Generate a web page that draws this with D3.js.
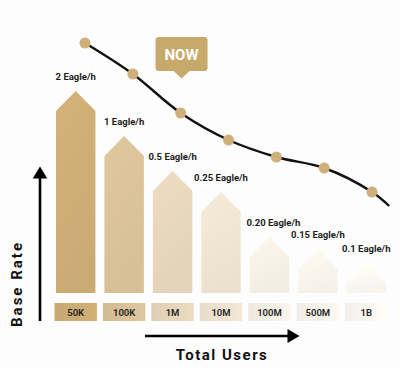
<!DOCTYPE html>
<html>
<head>
<meta charset="utf-8">
<script src="https://cdn.jsdelivr.net/npm/d3@7"></script>
<style>
  html, body { margin: 0; padding: 0; background: #fdfdfd; }
  svg { display: block; font-family: Roboto, "Noto Sans", sans-serif; }
</style>
</head>
<body>
<div id="chart"></div>
<script>
const width = 400, height = 368;

// data
const userTiers = ["50K", "100K", "1M", "10M", "100M", "500M", "1B"];
const rateLabels = ["2 Eagle/h", "1 Eagle/h", "0.5 Eagle/h", "0.25 Eagle/h", "0.20 Eagle/h", "0.15 Eagle/h", "0.1 Eagle/h"];
const barLevels = [202, 157, 122, 101, 56, 44, 30];     // visual bar heights (arrow tip)
const curveLevels = [250, 219, 180, 153, 136, 125, 101]; // trend curve dots
const curveTail = 87;                                    // where the curve line ends
const barColors = ["#cbab74", "#d7bf97", "#e3d3b8", "#ebe1ce", "#f2ede3", "#f5f1ea", "#f7f4ee"];
const nowIndex = 2;

const svg = d3.select("#chart")
    .append("svg")
    .attr("width", width)
    .attr("height", height);

svg.append("rect")
    .attr("width", width)
    .attr("height", height)
    .attr("fill", "#fdfdfd");

const x = d3.scaleBand()
    .domain(userTiers)
    .range([56, 386])
    .paddingInner(0.186)
    .paddingOuter(0);

const y = d3.scaleLinear()
    .domain([0, 250])
    .range([293, 43]);

const xDot = d3.scalePoint()
    .domain(userTiers)
    .range([85, 372]);

const bw = x.bandwidth();
const tip = 20;

// gradients per bar
const defs = svg.append("defs");
barColors.forEach((c, i) => {
    const g = defs.append("linearGradient")
        .attr("id", "grad" + i)
        .attr("x1", 0).attr("y1", 0).attr("x2", 0.3).attr("y2", 1);
    g.append("stop").attr("offset", "0%").attr("stop-color", d3.color(c).brighter(0.12));
    g.append("stop").attr("offset", "100%").attr("stop-color", c);
    const h = defs.append("linearGradient")
        .attr("id", "hgrad" + i)
        .attr("x1", 0).attr("y1", 0).attr("x2", 1).attr("y2", 0);
    h.append("stop").attr("offset", "0%").attr("stop-color", d3.color(c).darker(0.05));
    h.append("stop").attr("offset", "100%").attr("stop-color", d3.color(c).brighter(0.1));
});

const data = userTiers.map((t, i) => ({ tier: t, label: rateLabels[i], level: barLevels[i], curve: curveLevels[i], i: i }));

// arrow shaped bars
svg.append("g")
    .selectAll("path")
    .data(data)
    .enter().append("path")
    .attr("d", d => {
        const x0 = x(d.tier), x1 = x0 + bw, xm = x0 + bw / 2;
        const top = y(d.level), base = y(0);
        return `M${x0},${base}L${x0},${top + tip}L${xm},${top}L${x1},${top + tip}L${x1},${base}Z`;
    })
    .attr("fill", d => `url(#grad${d.i})`);

// rate labels
svg.append("g")
    .selectAll("text")
    .data(data)
    .enter().append("text")
    .attr("x", d => x(d.tier) + bw / 2 + (d.i == 4 ? 4 : 0))
    .attr("y", d => y(d.level) - 11)
    .attr("text-anchor", "middle")
    .style("font-size", "9.5px")
    .style("font-weight", 700)
    .style("fill", "#1c1c1c")
    .text(d => d.label);

// tier boxes
const tiers = svg.append("g");
tiers.selectAll("rect")
    .data(data)
    .enter().append("rect")
    .attr("x", d => x(d.tier) - 1.5)
    .attr("y", 303)
    .attr("width", bw + 3)
    .attr("height", 18)
    .attr("fill", d => `url(#hgrad${d.i})`);
tiers.selectAll("text")
    .data(data)
    .enter().append("text")
    .attr("x", d => x(d.tier) + bw / 2)
    .attr("y", 315.5)
    .attr("text-anchor", "middle")
    .style("font-size", "9.5px")
    .style("font-weight", 600)
    .style("fill", "#1f1f1f")
    .text(d => d.tier);

// trend curve
const lastX = xDot(userTiers[userTiers.length - 1]);
const linePts = data.map(d => [xDot(d.tier), y(d.curve)]);
linePts.push([lastX + xDot.step() * 0.36, y(curveTail)]);

svg.append("path")
    .attr("d", d3.line().curve(d3.curveCatmullRom.alpha(0.5))(linePts))
    .attr("fill", "none")
    .attr("stroke", "#111")
    .attr("stroke-width", 2.4);

svg.append("g")
    .selectAll("circle")
    .data(data)
    .enter().append("circle")
    .attr("cx", d => xDot(d.tier))
    .attr("cy", d => y(d.curve))
    .attr("r", 5.5)
    .attr("fill", "#cfb07b");

// NOW callout
const nowX = x(userTiers[nowIndex]) + bw / 2 + 9;
const now = svg.append("g");
now.append("path")
    .attr("d", `M${nowX - 23},37 h46 a3,3 0 0 1 3,3 v28 a3,3 0 0 1 -3,3 h-15 l-8,7.5 l-8,-7.5 h-15 a3,3 0 0 1 -3,-3 v-28 a3,3 0 0 1 3,-3 Z`)
    .attr("fill", "#c8a96c");
now.append("text")
    .attr("x", nowX)
    .attr("y", 59.5)
    .attr("text-anchor", "middle")
    .style("font-size", "15px")
    .style("font-weight", 700)
    .style("fill", "#fff")
    .text("NOW");

// axes arrows
const axes = svg.append("g").attr("fill", "#000").attr("stroke", "#000");
axes.append("line")
    .attr("x1", 40).attr("x2", 40)
    .attr("y1", 321).attr("y2", 176)
    .attr("stroke-width", 2.6);
axes.append("path")
    .attr("d", "M40,166.5L47.3,178.5L32.7,178.5Z")
    .attr("stroke", "none");
axes.append("line")
    .attr("x1", 145).attr("x2", 290)
    .attr("y1", 336).attr("y2", 336)
    .attr("stroke-width", 2.6);
axes.append("path")
    .attr("d", "M299.5,336L287.5,329L287.5,343Z")
    .attr("stroke", "none");

svg.append("text")
    .attr("transform", "translate(21.5,284) rotate(-90)")
    .attr("text-anchor", "middle")
    .style("font-size", "15px")
    .style("font-weight", 700)
    .style("letter-spacing", "2px")
    .style("fill", "#111")
    .text("Base Rate");

svg.append("text")
    .attr("x", 222)
    .attr("y", 360)
    .attr("text-anchor", "middle")
    .style("font-size", "15px")
    .style("font-weight", 700)
    .style("letter-spacing", "1.5px")
    .style("fill", "#111")
    .text("Total Users");
</script>
</body>
</html>
